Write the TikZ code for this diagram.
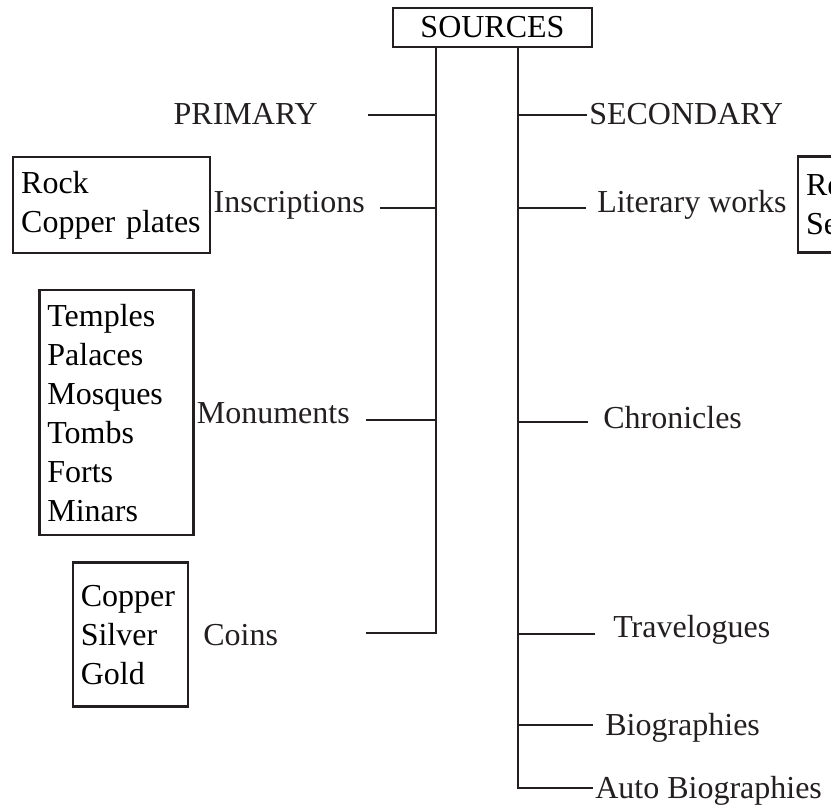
\documentclass[tikz,border=0pt]{standalone}
\usepackage{fontspec}
\setmainfont{Liberation Serif}
\usepackage{tikz}
\usetikzlibrary{positioning}
\definecolor{mydark}{RGB}{35,31,32}
\tikzset{
  lbl/.style={inner sep=0pt, font=\fontsize{24}{29.25}\selectfont, text=mydark},
  srcbox/.style={rectangle, draw=mydark, line width=1.8pt, minimum width=149.25pt,
    minimum height=29.25pt, inner sep=0pt, font=\fontsize{24}{29.25}\selectfont},
  listbox/.style={rectangle, draw=mydark, line width=1.8pt, align=left,
    inner xsep=6pt, inner ysep=0pt, font=\fontsize{24}{29.25}\selectfont},
  line/.style={line width=2.2pt, color=mydark}
}

\begin{document}
\begin{tikzpicture}[x=0.75pt, y=-0.75pt]
  \useasboundingbox (0,0) rectangle (831,806);
  \clip (0,0) rectangle (831,806);
  \node[srcbox] (src) at (492.5,27.5) {SOURCES};
  % spine ends
  \coordinate (lbot) at (436,633);
  \coordinate (rbot) at (518,788);
  % branch ends
  \coordinate (primend) at (368,115);
  \coordinate (inscend) at (380,208);
  \coordinate (monuend) at (366,420);
  \coordinate (coinend) at (366,633);
  \coordinate (secend) at (587,115);
  \coordinate (litend) at (586,208);
  \coordinate (chroend) at (588,422);
  \coordinate (travend) at (595,634);
  \coordinate (bioend) at (593,725);
  \coordinate (autoend) at (593,788);
  % primary side
  \node[lbl, anchor=base east] (prim) at (318,125) {PRIMARY};
  \node[lbl, anchor=base east] (insc) at (365,212) {Inscriptions};
  \node[lbl, anchor=base east] (monu) at (350,423) {Monuments};
  \node[lbl, anchor=base west] (coin) at (203,645) {Coins};
  \node[listbox, text width=135.75pt, minimum height=72pt, left=1.5pt of insc] (inscbox) {Rock\\Copper plates};
  \node[listbox, text width=103.5pt, minimum height=183.75pt, left=1.5pt of monu] (monubox) {Temples\\Palaces\\Mosques\\Tombs\\Forts\\Minars};
  \node[listbox, text width=74.25pt, minimum height=108pt, left=10.5pt of coin] (coinbox) {Copper\\Silver\\Gold};
  % secondary side
  \node[lbl, anchor=base west] (sec) at (589,125) {SECONDARY};
  \node[lbl, anchor=base west] (lit) at (597,212) {Literary works};
  \node[lbl, anchor=base west] (chro) at (603,428) {Chronicles};
  \node[lbl, anchor=base west] (trav) at (613,637) {Travelogues};
  \node[lbl, anchor=base west] (bio) at (605,735) {Biographies};
  \node[lbl, anchor=base west] (auto) at (595,798) {Auto Biographies};
  \node[listbox, text width=150pt, minimum height=72pt, right=7.5pt of lit] (litbox) {Religious\\Secular};
  \draw[line] (src.south -| lbot) -- (lbot) -- (coinend);
  \draw[line] (src.south -| rbot) -- (rbot) -- (autoend);
  \foreach \e in {primend, inscend, monuend}
    \draw[line] (\e) -- (\e -| lbot);
  \foreach \e in {secend, litend, chroend, travend, bioend}
    \draw[line] (\e) -- (\e -| rbot);
\end{tikzpicture}
\end{document}
